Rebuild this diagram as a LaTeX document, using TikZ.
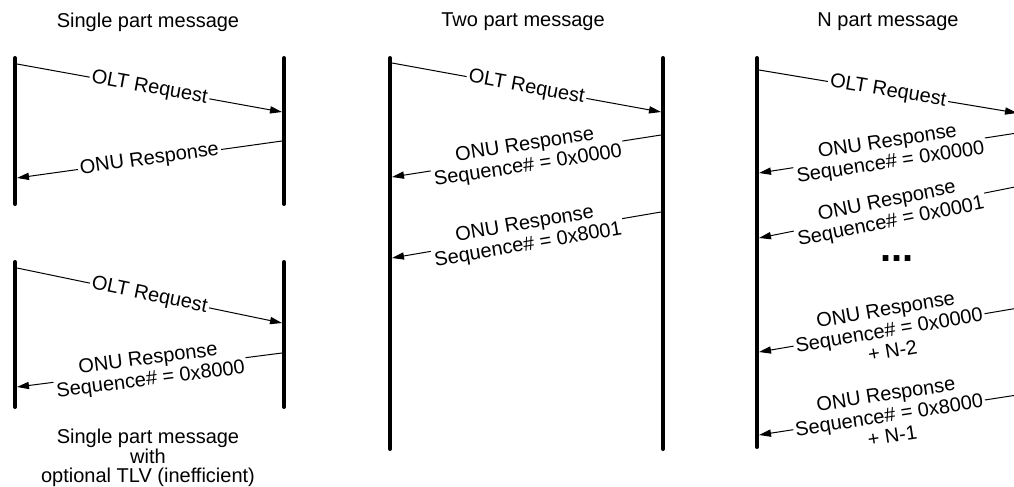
\documentclass[tikz,border=0pt]{standalone}
\usepackage{fontspec}
\setmainfont{Liberation Sans}
\usetikzlibrary{arrows.meta}
\tikzset{
  lifeline/.style={line width=2pt, line cap=round},
  msg/.style={line width=0.5pt, -{Triangle[length=6pt,width=3.6pt]}},
  msglabel/.style={sloped, fill=white, inner sep=1pt, align=center,
    font=\fontsize{10}{10.6}\selectfont},
  heading/.style={font=\fontsize{10}{12}\selectfont},
  caption/.style={align=center, inner sep=0pt, font=\fontsize{10}{9.6}\selectfont},
}

\begin{document}
\begin{tikzpicture}[x=0.5pt, y=-0.5pt]
\useasboundingbox (0,0) rectangle (1014,487);
\clip (0,0) rectangle (1014,487);

% top left: single part
\node[heading] (single-title) at (148,22) {Single part message};
\draw[lifeline] (15,58) coordinate (sA-top) -- (15,204) coordinate (sA-bot);
\draw[lifeline] (284,58) coordinate (sB-top) -- (284,204) coordinate (sB-bot);
\coordinate (sA-req) at (17,64);
\coordinate (sB-req) at (282,112);
\coordinate (sB-rsp) at (282,141);
\coordinate (sA-rsp) at (17,178);
\draw[msg] (sA-req) -- node[msglabel] (s-req) {OLT Request} (sB-req);
\draw[msg] (sB-rsp) -- node[msglabel] (s-rsp) {ONU Response} (sA-rsp);

% bottom left: single part with TLV
\draw[lifeline] (15,262) coordinate (tA-top) -- (15,407) coordinate (tA-bot);
\draw[lifeline] (284,262) coordinate (tB-top) -- (284,407) coordinate (tB-bot);
\coordinate (tA-req) at (17,268);
\coordinate (tB-req) at (282,323);
\coordinate (tB-rsp) at (282,353);
\coordinate (tA-rsp) at (17,387);
\draw[msg] (tA-req) -- node[msglabel] (t-req) {OLT Request} (tB-req);
\draw[msg] (tB-rsp) -- node[msglabel] (t-rsp) {ONU Response\\Sequence\# = 0x8000} (tA-rsp);
\node[caption] (tlv-title) at (148,458) {Single part message\\with\\optional TLV (inefficient)};

% middle: two part
\node[heading] (two-title) at (523,22) {Two part message};
\draw[lifeline] (390,58) coordinate (wA-top) -- (390,449) coordinate (wA-bot);
\draw[lifeline] (663,58) coordinate (wB-top) -- (663,449) coordinate (wB-bot);
\coordinate (wA-req) at (392,63);
\coordinate (wB-req) at (661,112);
\coordinate (wB-rsp1) at (661,135);
\coordinate (wA-rsp1) at (392,177);
\coordinate (wB-rsp2) at (661,212);
\coordinate (wA-rsp2) at (392,258);
\draw[msg] (wA-req) -- node[msglabel] (w-req) {OLT Request} (wB-req);
\draw[msg] (wB-rsp1) -- node[msglabel] (w-rsp1) {ONU Response\\Sequence\# = 0x0000} (wA-rsp1);
\draw[msg] (wB-rsp2) -- node[msglabel] (w-rsp2) {ONU Response\\Sequence\# = 0x8001} (wA-rsp2);

% right: N part
\node[heading] (n-title) at (888,22) {N part message};
\draw[lifeline] (757,58) coordinate (nA-top) -- (757,447) coordinate (nA-bot);
\coordinate (nA-req) at (759,70);
\coordinate (nB-req) at (1017,113);
\coordinate (nB-rsp1) at (1030,131);
\coordinate (nA-rsp1) at (759,173);
\coordinate (nB-rsp2) at (1030,184);
\coordinate (nA-rsp2) at (759,238);
\coordinate (nB-rsp3) at (1030,306);
\coordinate (nA-rsp3) at (759,352);
\coordinate (nB-rsp4) at (1030,393);
\coordinate (nA-rsp4) at (759,435);
\draw[msg] (nA-req) -- node[msglabel] (n-req) {OLT Request} (nB-req);
\draw[msg] (nB-rsp1) -- node[msglabel, pos=0.52] (n-rsp1) {ONU Response\\Sequence\# = 0x0000} (nA-rsp1);
\draw[msg] (nB-rsp2) -- node[msglabel, pos=0.52] (n-rsp2) {ONU Response\\Sequence\# = 0x0001} (nA-rsp2);
\node (n-dots) at (897,259) {\fontsize{20}{20}\selectfont\bfseries ...};
\draw[msg] (nB-rsp3) -- node[msglabel, pos=0.52] (n-rsp3) {ONU Response\\Sequence\# = 0x0000\\+ N-2} (nA-rsp3);
\draw[msg] (nB-rsp4) -- node[msglabel, pos=0.52] (n-rsp4) {ONU Response\\Sequence\# = 0x8000\\+ N-1} (nA-rsp4);
\end{tikzpicture}
\end{document}
